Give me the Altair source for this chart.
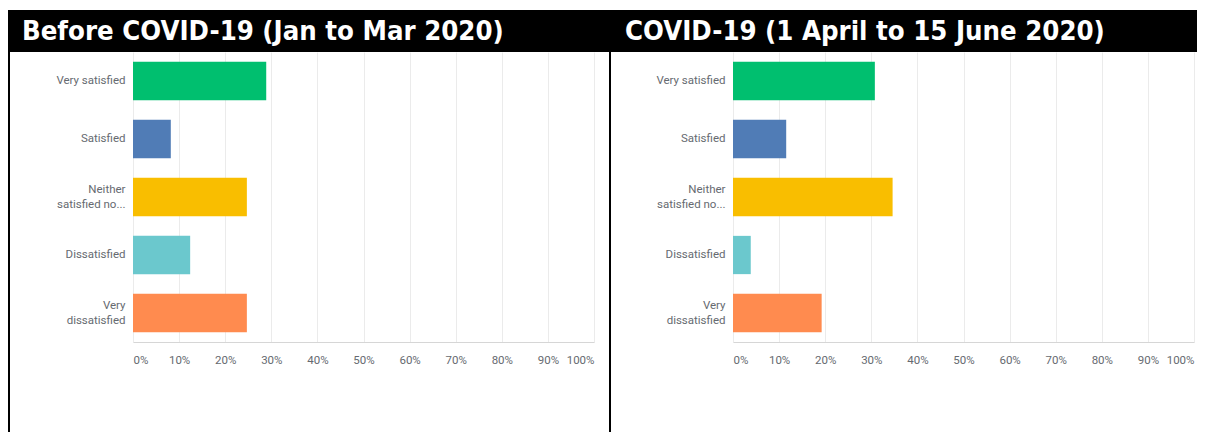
import altair as alt
import pandas as pd

categories = ["Very satisfied", "Satisfied", "Neither satisfied no...", "Dissatisfied", "Very dissatisfied"]
colors = ["#00BF6F", "#507CB6", "#F9BE00", "#6BC8CD", "#FF8B4F"]
before_values = [28.9, 8.2, 24.7, 12.4, 24.7]
during_values = [30.77, 11.54, 34.62, 3.85, 19.23]
titles = ["Before COVID-19 (Jan to Mar 2020)", "COVID-19 (1 April to 15 June 2020)"]
tick_values = [0, 10, 20, 30, 40, 50, 60, 70, 80, 90, 100]

LABEL_FONT = "Roboto"
TITLE_FONT = "DejaVu Sans Condensed"
LABEL_COLOR = "#666a70"
W, H = 461, 290
BOTTOM = 380

label_expr = ("datum.label == 'Neither satisfied no...' ? ['Neither', 'satisfied no...'] : "
              "datum.label == 'Very dissatisfied' ? ['Very', 'dissatisfied'] : datum.label")
multi_test = "datum.value == 'Neither satisfied no...' || datum.value == 'Very dissatisfied'"


def panel(values, title, band_x, band_x2, lines, title_x):
    df = pd.DataFrame({"category": categories, "pct": values})
    one = pd.DataFrame({"k": [0]})
    bars = alt.Chart(df).mark_bar().encode(
        x=alt.X("pct:Q", scale=alt.Scale(domain=[0, 100], nice=False),
                axis=alt.Axis(values=tick_values, labelExpr="datum.value + '%'", title=None,
                              grid=True, gridColor="#ebebeb", domainColor="#d6d6d6",
                              ticks=False, labelPadding=12, labelFont=LABEL_FONT,
                              labelFontSize=11.5, labelColor=LABEL_COLOR, labelFlush=True)),
        y=alt.Y("category:N", sort=categories,
                scale=alt.Scale(paddingInner=0.34, paddingOuter=0.17),
                axis=alt.Axis(title=None, domain=False, ticks=False, labelPadding=8,
                              labelFont=LABEL_FONT, labelFontSize=11.5, labelColor=LABEL_COLOR,
                              labelLineHeight=15, labelExpr=label_expr, labelLimit=200,
                              labelOffset={"condition": {"test": multi_test, "value": -7.5},
                                           "value": 0})),
        color=alt.Color("category:N", scale=alt.Scale(domain=categories, range=colors), legend=None),
    )
    band = alt.Chart(one).mark_rect(color="black").encode(
        x=alt.value(band_x), x2=alt.value(band_x2), y=alt.value(-42), y2=alt.value(0))
    layers = [band]
    for lx in lines:
        layers.append(alt.Chart(one).mark_rect(color="black").encode(
            x=alt.value(lx), x2=alt.value(lx + 2), y=alt.value(-42), y2=alt.value(BOTTOM)))
    text = alt.Chart(one).mark_text(align="left", baseline="alphabetic", font=TITLE_FONT,
                                    fontSize=27.3, fontWeight="bold", color="white").encode(
        x=alt.value(title_x), y=alt.value(-12.5), text=alt.value(title))
    return alt.layer(*layers, bars, text).properties(width=W, height=H)


left = panel(before_values, titles[0], -125, 478, [-125, 476], -111)
right = panel(during_values, titles[1], -122, 464, [], -108)

chart = alt.hconcat(left, right, spacing=0).properties(
    padding={"left": 0, "top": 2, "right": 0, "bottom": 0},
    background="white",
).configure_view(stroke=None)

chart.save("out.html", embed_options={"renderer": "svg", "actions": False})
